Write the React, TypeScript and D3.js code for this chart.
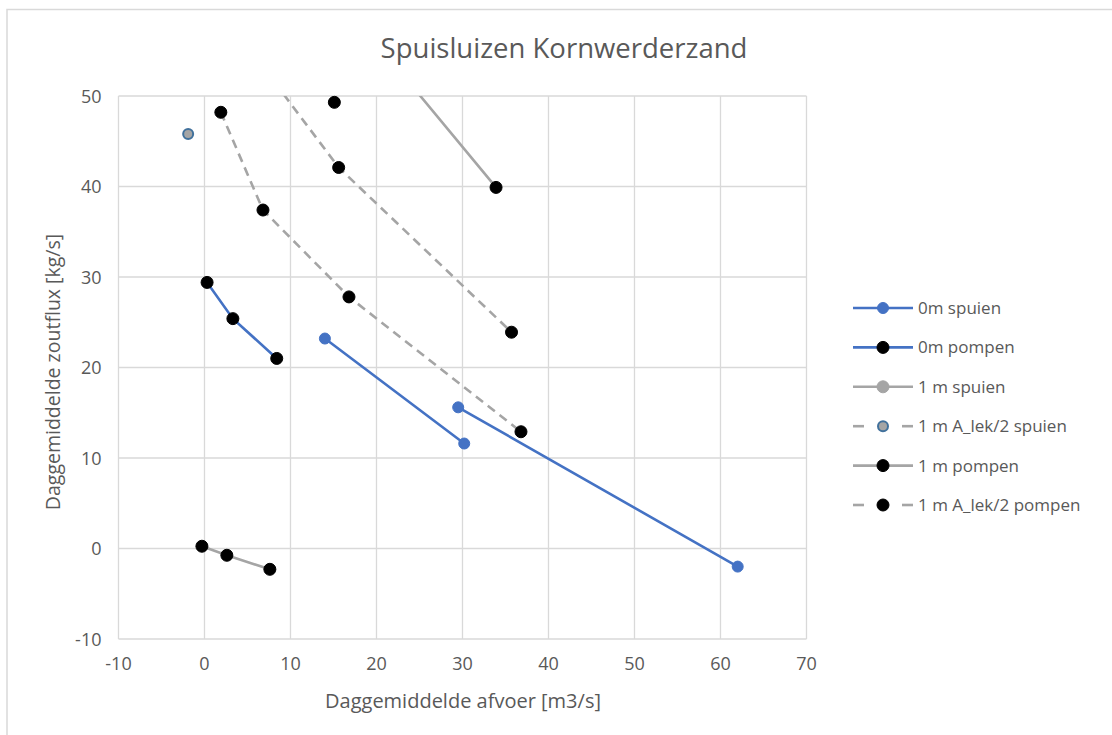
import React from "react";
import * as d3 from "d3";

type Pt = [number, number] | null;

const title = "Spuisluizen Kornwerderzand";
const xAxisTitle = "Daggemiddelde afvoer [m3/s]";
const yAxisTitle = "Daggemiddelde zoutflux [kg/s]";

const xTicks = [-10, 0, 10, 20, 30, 40, 50, 60, 70];
const yTicks = [-10, 0, 10, 20, 30, 40, 50];

const spuien0m: Pt[] = [[14.0, 23.2], [30.2, 11.6], null, [29.5, 15.6], [62.0, -2.0]];
const pompen0m: Pt[] = [[0.3, 29.4], [3.3, 25.4], [8.4, 21.0]];
const spuien1m: Pt[] = [];
const spuienALek: Pt[] = [[-1.9, 45.8]];
const pompen1m: Pt[] = [[-0.3, 0.25], [2.6, -0.75], [7.6, -2.3], null, [19.0, 57.0], [33.9, 39.9], null, [15.1, 49.3]];
const pompenALek: Pt[] = [[1.9, 48.2], [6.8, 37.4], [16.8, 27.8], [36.8, 12.9], null, [5.0, 55.5], [15.6, 42.1], [35.7, 23.9]];

const seriesNames = ["0m spuien", "0m pompen", "1 m spuien", "1 m A_lek/2 spuien", "1 m pompen", "1 m A_lek/2 pompen"];

const BLUE = "#4472C4";
const GRAY = "#A5A5A5";
const TXT = "#595959";
const FONT = "'Open Sans', sans-serif";

interface Style {
  line: string;
  dash?: string;
  fill: string;
  stroke: string;
  r: number;
  sw: number;
}

const styles: Style[] = [
  { line: BLUE, fill: BLUE, stroke: BLUE, r: 5.5, sw: 1 },
  { line: BLUE, fill: "#000", stroke: "#000", r: 6, sw: 1 },
  { line: GRAY, fill: GRAY, stroke: GRAY, r: 6, sw: 1 },
  { line: GRAY, dash: "9 6", fill: GRAY, stroke: "#41719C", r: 5, sw: 2 },
  { line: GRAY, fill: "#000", stroke: "#000", r: 6, sw: 1 },
  { line: GRAY, dash: "9 6", fill: "#000", stroke: "#000", r: 6, sw: 1 },
];

const allSeries: Pt[][] = [spuien0m, pompen0m, spuien1m, spuienALek, pompen1m, pompenALek];

export default function App() {
  const W = 1112;
  const H = 735;
  const x = d3.scaleLinear().domain([-10, 70]).range([118.5, 806.5]);
  const y = d3.scaleLinear().domain([-10, 50]).range([639, 96]);
  const line = d3
    .line<Pt>()
    .defined((d) => d !== null)
    .x((d) => x((d as [number, number])[0]))
    .y((d) => y((d as [number, number])[1]));

  const legendX = 853;
  const legendY0 = 308;
  const legendDy = 39.4;

  return (
    <svg width={W} height={H} style={{ position: "absolute", left: 0, top: 0, background: "#fff" }}>
      <rect x={7} y={9.5} width={W + 10} height={H + 10} fill="#fff" stroke="#d9d9d9" strokeWidth={1.5} />
      <defs>
        <clipPath id="plot">
          <rect x={x(-10)} y={y(50)} width={x(70) - x(-10)} height={y(-10) - y(50)} />
        </clipPath>
      </defs>
      <text x={564} y={58} textAnchor="middle" fontFamily={FONT} fontSize={27.5} fill={TXT}>
        {title}
      </text>
      {/* grid */}
      {xTicks.map((t) => (
        <line key={"gx" + t} x1={x(t)} x2={x(t)} y1={y(50)} y2={y(-10)} stroke="#d9d9d9" strokeWidth={1.3} />
      ))}
      {yTicks.map((t) => (
        <line key={"gy" + t} x1={x(-10)} x2={x(70)} y1={y(t)} y2={y(t)} stroke="#d9d9d9" strokeWidth={1.3} />
      ))}
      {xTicks.map((t) => (
        <text key={"tx" + t} x={x(t)} y={669.5} textAnchor="middle" fontFamily={FONT} fontSize={18} fill={TXT}>
          {t}
        </text>
      ))}
      {yTicks.map((t) => (
        <text key={"ty" + t} x={101.5} y={y(t) + 6.5} textAnchor="end" fontFamily={FONT} fontSize={18} fill={TXT}>
          {t}
        </text>
      ))}
      <text x={463} y={708} textAnchor="middle" fontFamily={FONT} fontSize={20} fill={TXT}>
        {xAxisTitle}
      </text>
      <text
        transform={`translate(60, 372) rotate(-90)`}
        textAnchor="middle"
        fontFamily={FONT}
        fontSize={19.5}
        fill={TXT}
      >
        {yAxisTitle}
      </text>
      {/* lines */}
      <g clipPath="url(#plot)">
        {allSeries.map((s, i) => (
          <path
            key={"l" + i}
            d={line(s) || ""}
            fill="none"
            stroke={styles[i].line}
            strokeWidth={2.6}
            strokeDasharray={styles[i].dash}
          />
        ))}
      </g>
      {/* markers */}
      {allSeries.map((s, i) =>
        s
          .filter((d): d is [number, number] => d !== null && d[1] <= 50 && d[1] >= -10 && d[0] >= -10 && d[0] <= 70)
          .map((d, j) => (
            <circle
              key={"m" + i + "-" + j}
              cx={x(d[0])}
              cy={y(d[1])}
              r={styles[i].r}
              fill={styles[i].fill}
              stroke={styles[i].stroke}
              strokeWidth={styles[i].sw}
            />
          ))
      )}
      {/* legend */}
      {seriesNames.map((n, i) => {
        const ly = legendY0 + i * legendDy;
        const st = styles[i];
        return (
          <g key={"lg" + i}>
            {st.dash ? (
              <>
                <line x1={legendX} x2={legendX + 11} y1={ly} y2={ly} stroke={st.line} strokeWidth={2.6} />
                <line x1={legendX + 49} x2={legendX + 60} y1={ly} y2={ly} stroke={st.line} strokeWidth={2.6} />
              </>
            ) : (
              <line x1={legendX} x2={legendX + 60} y1={ly} y2={ly} stroke={st.line} strokeWidth={2.6} />
            )}
            <circle cx={legendX + 30} cy={ly} r={st.r} fill={st.fill} stroke={st.stroke} strokeWidth={st.sw} />
            <text x={legendX + 65} y={ly + 6} fontFamily={FONT} fontSize={17} fill={TXT}>
              {n}
            </text>
          </g>
        );
      })}
    </svg>
  );
}
